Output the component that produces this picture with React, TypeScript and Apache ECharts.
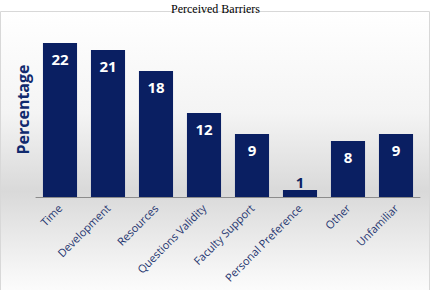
import React, { useEffect, useRef } from "react";
import * as echarts from "echarts";

const categories = ["Time", "Development", "Resources", "Questions Validity", "Faculty Support", "Personal Preference", "Other", "Unfamiliar"];
const values = [22, 21, 18, 12, 9, 1, 8, 9];

const NAVY = "#0a1f62";

export default function App() {
  const ref = useRef<HTMLDivElement>(null);
  useEffect(() => {
    const chart = echarts.init(ref.current!, null, { renderer: "svg" });
    chart.setOption({
      animation: false,
      title: {
        text: "Perceived Barriers",
        left: "center",
        top: -2,
        textStyle: { fontFamily: "Liberation Serif", fontSize: 12, fontWeight: "normal", color: "#000" },
      },
      graphic: [
        {
          type: "rect",
          shape: { x: 0.5, y: 11.5, width: 429, height: 290 },
          style: {
            fill: new echarts.graphic.LinearGradient(0, 0, 0, 1, [
              { offset: 0, color: "#ffffff" },
              { offset: 0.35, color: "#f4f4f4" },
              { offset: 0.62, color: "#d9d9d9" },
              { offset: 0.9, color: "#f6f6f6" },
              { offset: 1, color: "#ffffff" },
            ]),
            stroke: "#d8d8d8",
            lineWidth: 1,
          },
          z: -10,
          silent: true,
        },
      ],
      grid: { left: 36, right: 11, top: 22, bottom: 93 },
      xAxis: {
        type: "category",
        data: categories,
        axisLine: { lineStyle: { color: "#8c8c8c", width: 1 } },
        axisTick: { show: false },
        axisLabel: {
          rotate: 45,
          interval: 0,
          margin: 9,
          color: "#1f3570",
          fontFamily: "Open Sans",
          fontSize: 11,
        },
      },
      yAxis: {
        type: "value",
        min: 0,
        max: 25,
        name: "Percentage",
        nameLocation: "middle",
        nameRotate: 90,
        nameGap: 5,
        nameTextStyle: { color: "#102a6e", fontWeight: "bold", fontSize: 16, fontFamily: "Open Sans" },
        axisLine: { show: false },
        axisTick: { show: false },
        axisLabel: { show: false },
        splitLine: { show: false },
      },
      series: [
        {
          type: "bar",
          data: values.map((v) => ({
            value: v,
            label:
              v < 3
                ? { position: "top", color: NAVY, distance: 1 }
                : undefined,
          })),
          barWidth: "71%",
          itemStyle: { color: NAVY },
          label: {
            show: true,
            position: "insideTop",
            distance: 8,
            color: "#ffffff",
            fontWeight: "bold",
            fontSize: 15,
            fontFamily: "Open Sans",
          },
        },
      ],
    });
    return () => chart.dispose();
  }, []);
  return <div ref={ref} style={{ width: 431, height: 290, position: "absolute", left: 0, top: 0 }} />;
}
